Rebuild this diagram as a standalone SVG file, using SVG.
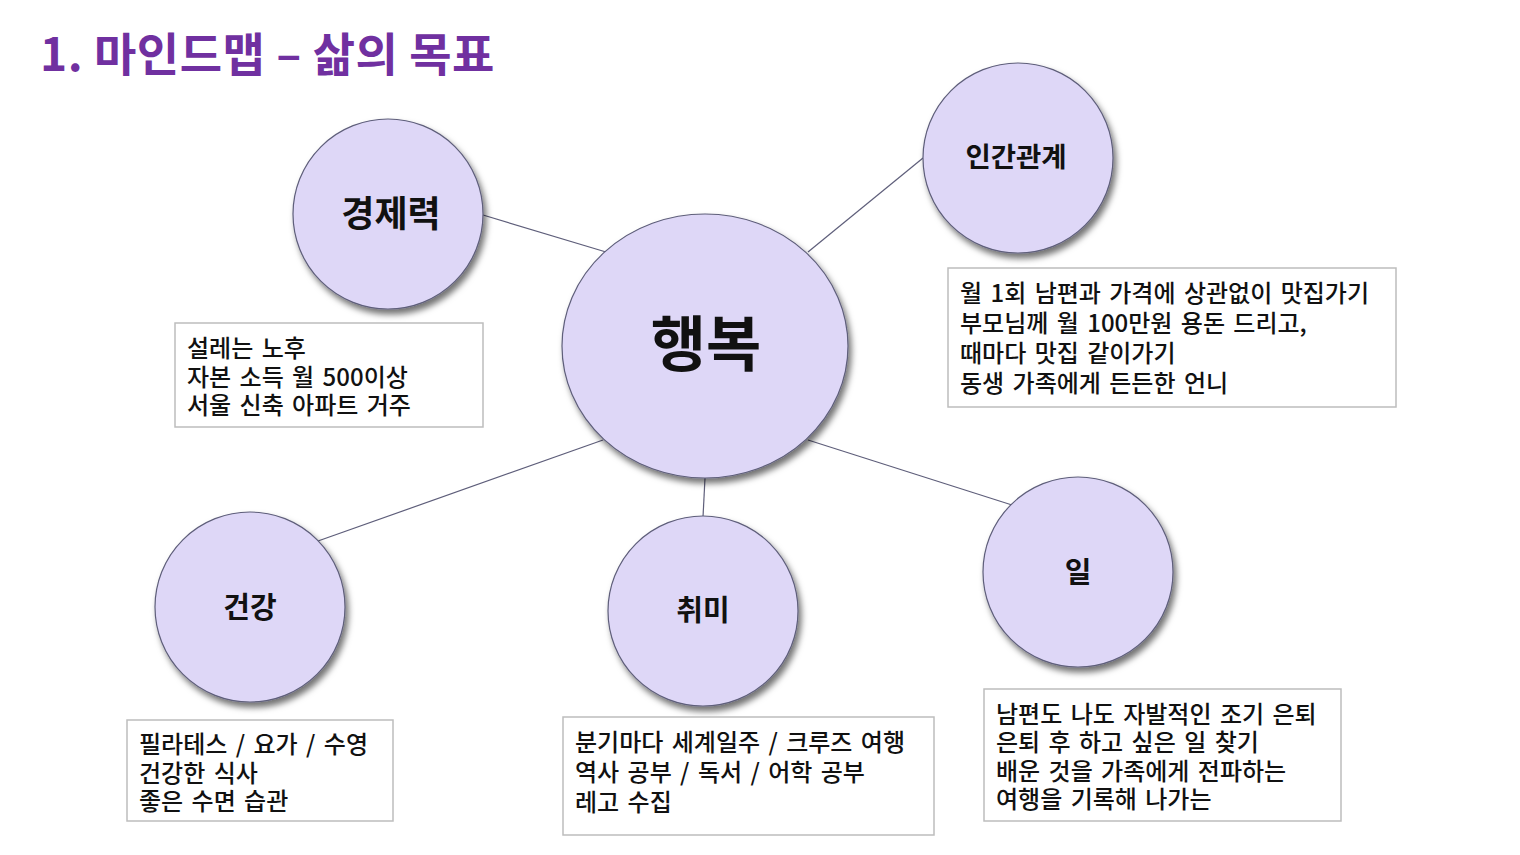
<svg xmlns="http://www.w3.org/2000/svg" width="1520" height="855" viewBox="0 0 1520 855">
<defs>
<style>
.t{font-family:"Noto Sans CJK KR","Noto Sans",sans-serif;}
.title{font-size:46px;font-weight:700;fill:#7030A0;letter-spacing:0.5px;}
.node{fill:#DED7F7;stroke:#5E5E7A;stroke-width:1.2;filter:url(#sh);}
.nl{font-weight:700;fill:#111;text-anchor:middle;}
.box{fill:#FFFFFF;stroke:#BDBDBD;stroke-width:1.5;}
.bt{font-size:24px;font-weight:500;fill:#111;word-spacing:3px;}
.conn line{stroke:#5E5E7A;stroke-width:1.2;}
</style>
<filter id="sh" x="-20%" y="-20%" width="150%" height="150%">
<feDropShadow dx="3" dy="5" stdDeviation="3" flood-color="#000" flood-opacity="0.55"/>
</filter>
</defs>
<rect width="1520" height="855" fill="#FFFFFF"/>
<text class="t title" x="40" y="71">1. 마인드맵 – 삶의 목표</text>

<g id="connectors" class="conn">
<line x1="483" y1="215" x2="606" y2="252"/>
<line x1="923" y1="158" x2="808" y2="252"/>
<line x1="318" y1="541" x2="603" y2="440"/>
<line x1="705" y1="478" x2="703" y2="517"/>
<line x1="808" y1="440" x2="1012" y2="505"/>
</g>

<g id="node-center">
<ellipse class="node" cx="705" cy="346" rx="143" ry="132"/>
<text class="t nl" x="706" y="366" font-size="60">행복</text>
</g>
<g id="node-economy">
<circle class="node" cx="388" cy="214" r="95"/>
<text class="t nl" x="391" y="227" font-size="36">경제력</text>
</g>
<g id="node-relation">
<circle class="node" cx="1018" cy="158" r="95"/>
<text class="t nl" x="1016" y="167" font-size="27.5">인간관계</text>
</g>
<g id="node-health">
<circle class="node" cx="250" cy="607" r="95"/>
<text class="t nl" x="250" y="618" font-size="29">건강</text>
</g>
<g id="node-hobby">
<circle class="node" cx="703" cy="611" r="95"/>
<text class="t nl" x="703" y="621" font-size="29">취미</text>
</g>
<g id="node-work">
<circle class="node" cx="1078" cy="572" r="95"/>
<text class="t nl" x="1078" y="583" font-size="29">일</text>
</g>

<g id="box-economy">
<rect class="box" x="175" y="323" width="308" height="104"/>
<text class="t bt" x="187" y="357">설레는 노후</text>
<text class="t bt" x="187" y="386">자본 소득 월 500이상</text>
<text class="t bt" x="187" y="414">서울 신축 아파트 거주</text>
</g>
<g id="box-relation">
<rect class="box" x="948" y="268" width="448" height="139"/>
<text class="t bt" x="960" y="302">월 1회 남편과 가격에 상관없이 맛집가기</text>
<text class="t bt" x="960" y="332">부모님께 월 100만원 용돈 드리고,</text>
<text class="t bt" x="960" y="362">때마다 맛집 같이가기</text>
<text class="t bt" x="960" y="392">동생 가족에게 든든한 언니</text>
</g>
<g id="box-health">
<rect class="box" x="127" y="720" width="266" height="101"/>
<text class="t bt" x="139" y="753">필라테스 / 요가 / 수영</text>
<text class="t bt" x="139" y="782">건강한 식사</text>
<text class="t bt" x="139" y="810">좋은 수면 습관</text>
</g>
<g id="box-hobby">
<rect class="box" x="563" y="717" width="371" height="118"/>
<text class="t bt" x="575" y="751">분기마다 세계일주 / 크루즈 여행</text>
<text class="t bt" x="575" y="781">역사 공부 / 독서 / 어학 공부</text>
<text class="t bt" x="575" y="811">레고 수집</text>
</g>
<g id="box-work">
<rect class="box" x="984" y="689" width="357" height="132"/>
<text class="t bt" x="996" y="723">남편도 나도 자발적인 조기 은퇴</text>
<text class="t bt" x="996" y="751">은퇴 후 하고 싶은 일 찾기</text>
<text class="t bt" x="996" y="780">배운 것을 가족에게 전파하는</text>
<text class="t bt" x="996" y="808">여행을 기록해 나가는</text>
</g>
</svg>
